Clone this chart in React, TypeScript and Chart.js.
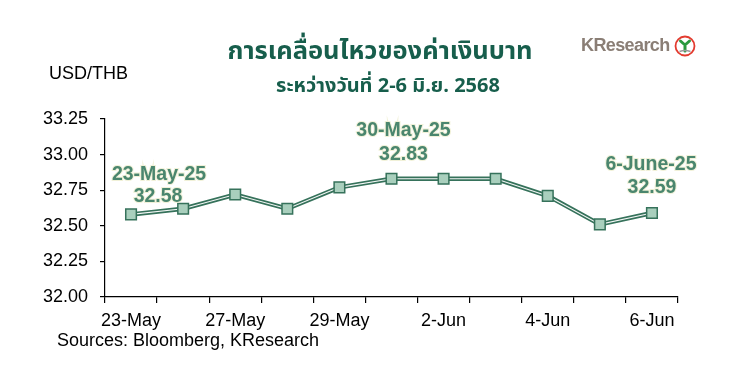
import React, { useEffect, useRef } from "react";
import { Chart, registerables } from "chart.js";

Chart.register(...registerables);

const categories = ["23-May", "26-May", "27-May", "28-May", "29-May", "30-May", "2-Jun", "3-Jun", "4-Jun", "5-Jun", "6-Jun"];
const usdThb = [32.58, 32.62, 32.72, 32.62, 32.77, 32.83, 32.83, 32.83, 32.71, 32.51, 32.59];
const yTicks = [32.0, 32.25, 32.5, 32.75, 33.0, 33.25];
const annotIndexes = [0, 5, 10];
const annotDates = ["23-May-25", "30-May-25", "6-June-25"];

const TITLE = "การเคลื่อนไหวของค่าเงินบาท";
const SUBTITLE = "ระหว่างวันที่ 2-6 มิ.ย. 2568";
const UNIT = "USD/THB";
const SOURCE = "Sources: Bloomberg, KResearch";

const DARK = "#36725b";
const FILL = "#a9cfbd";
const ANNOT = "#4a866e";
const FONT = "Arial, 'Liberation Sans', Helvetica, sans-serif";
const THAI = "Tahoma, 'Noto Sans Thai', 'Noto Sans Thai UI', Loma, Garuda, 'Noto Sans', sans-serif";

export default function App() {
  const ref = useRef<HTMLCanvasElement | null>(null);

  useEffect(() => {
    if (!ref.current) return;
    const annotOffsets = [
      { dx: 28, dy1: -40, dx2: 27, dy2: -18 },
      { dx: 12, dy1: -48, dx2: 12, dy2: -24 },
      { dx: -1, dy1: -48, dx2: 0, dy2: -25 },
    ];
    const annotPlugin = {
      id: "annots",
      afterDatasetsDraw(chart: any) {
        const meta = chart.getDatasetMeta(1);
        const ctx = chart.ctx;
        ctx.save();
        ctx.font = `bold 19.5px ${FONT}`;
        ctx.textAlign = "center";
        ctx.textBaseline = "middle";
        annotIndexes.forEach((idx, k) => {
          const pt = meta.data[idx];
          const o = annotOffsets[k];
          const lines = [
            { t: annotDates[k], x: pt.x + o.dx, y: pt.y + o.dy1 },
            { t: usdThb[idx].toFixed(2), x: pt.x + o.dx2, y: pt.y + o.dy2 },
          ];
          lines.forEach((l) => {
            ctx.lineWidth = 2;
            ctx.strokeStyle = "rgba(235,235,200,0.7)";
            ctx.strokeText(l.t, l.x, l.y);
            ctx.fillStyle = ANNOT;
            ctx.fillText(l.t, l.x, l.y);
          });
        });
        ctx.restore();
      },
    };

    const chart = new Chart(ref.current, {
      type: "line",
      data: {
        labels: categories,
        datasets: [
          {
            data: usdThb,
            borderColor: DARK,
            borderWidth: 4.5,
            pointRadius: 0,
            tension: 0,
            order: 2,
          },
          {
            data: usdThb,
            borderColor: "rgba(255,255,255,0.95)",
            borderWidth: 1.1,
            pointStyle: "rect",
            pointRadius: 7.5,
            pointBackgroundColor: FILL,
            pointBorderColor: DARK,
            pointBorderWidth: 1.5,
            tension: 0,
            order: 1,
          },
        ],
      },
      options: {
        animation: false,
        responsive: false,
        maintainAspectRatio: false,
        events: [],
        layout: { padding: { left: 0, right: 57, top: 119, bottom: 30 } },
        plugins: { legend: { display: false }, tooltip: { enabled: false }, title: { display: false } },
        scales: {
          x: {
            type: "category",
            offset: true,
            border: { display: true, color: "#000", width: 1.2 },
            grid: { display: true, offset: true, drawOnChartArea: false, drawTicks: true, tickLength: 6, color: "#000", lineWidth: 1.2 },
            ticks: {
              autoSkip: false,
              maxRotation: 0,
              padding: 7,
              color: "#000",
              font: { family: FONT, size: 18 },
              callback: (_v: any, i: number) => (i % 2 === 0 ? categories[i] : ""),
            },
            afterFit: (s: any) => {
              s.height = 44;
            },
          },
          y: {
            min: yTicks[0],
            max: yTicks[yTicks.length - 1],
            border: { display: true, color: "#000", width: 1.2 },
            grid: { display: true, drawOnChartArea: false, drawTicks: true, tickLength: 5, color: "#000", lineWidth: 1.2 },
            afterBuildTicks: (s: any) => {
              s.ticks = yTicks.map((v) => ({ value: v }));
            },
            ticks: {
              padding: 12,
              color: "#000",
              font: { family: FONT, size: 18 },
              callback: (v: any) => Number(v).toFixed(2),
            },
            afterFit: (s: any) => {
              s.width = 105;
            },
          },
        },
      },
      plugins: [annotPlugin],
    } as any);
    return () => chart.destroy();
  }, []);

  return (
    <div style={{ position: "absolute", left: 0, top: 0, width: 735, height: 371, background: "#fff", overflow: "hidden" }}>
      <canvas ref={ref} width={735} height={371} style={{ position: "absolute", left: 0, top: 0, width: 735, height: 371 }} />
      <div style={{ position: "absolute", left: 180, width: 400, top: 34, textAlign: "center", fontFamily: THAI, fontWeight: "bold", fontSize: 25.5, lineHeight: "34px", color: "#175e4c", whiteSpace: "nowrap" }}>
        {TITLE}
      </div>
      <div style={{ position: "absolute", left: 238, width: 300, top: 73, textAlign: "center", fontFamily: THAI, fontWeight: "bold", fontSize: 20, lineHeight: "26px", color: "#175e4c", whiteSpace: "nowrap" }}>
        {SUBTITLE}
      </div>
      <div style={{ position: "absolute", left: 49, top: 62, fontFamily: FONT, fontSize: 18, lineHeight: "22px", color: "#000" }}>{UNIT}</div>
      <div style={{ position: "absolute", left: 57, top: 329, fontFamily: FONT, fontSize: 18, lineHeight: "22px", color: "#000", whiteSpace: "nowrap" }}>{SOURCE}</div>
      <div style={{ position: "absolute", left: 581, top: 34, fontFamily: FONT, fontWeight: "bold", fontSize: 18, lineHeight: "22px", color: "#8a7e75", letterSpacing: -0.6, whiteSpace: "nowrap" }}>
        KResearch
      </div>
      <svg style={{ position: "absolute", left: 674, top: 35 }} width={22} height={22} viewBox="0 0 22 22">
        <circle cx={11} cy={11} r={9.5} fill="#fff" stroke="#e33b2f" strokeWidth={1.8} />
        <path d="M11 16 L11 10 M11 10 L6.5 6 M11 10 L15.5 6" stroke="#2a9a3e" strokeWidth={3} fill="none" strokeLinecap="round" />
        <path d="M5.5 16.5 Q11 14.5 16.5 16.5" stroke="#9a9a9a" strokeWidth={1.5} fill="none" />
      </svg>
    </div>
  );
}
